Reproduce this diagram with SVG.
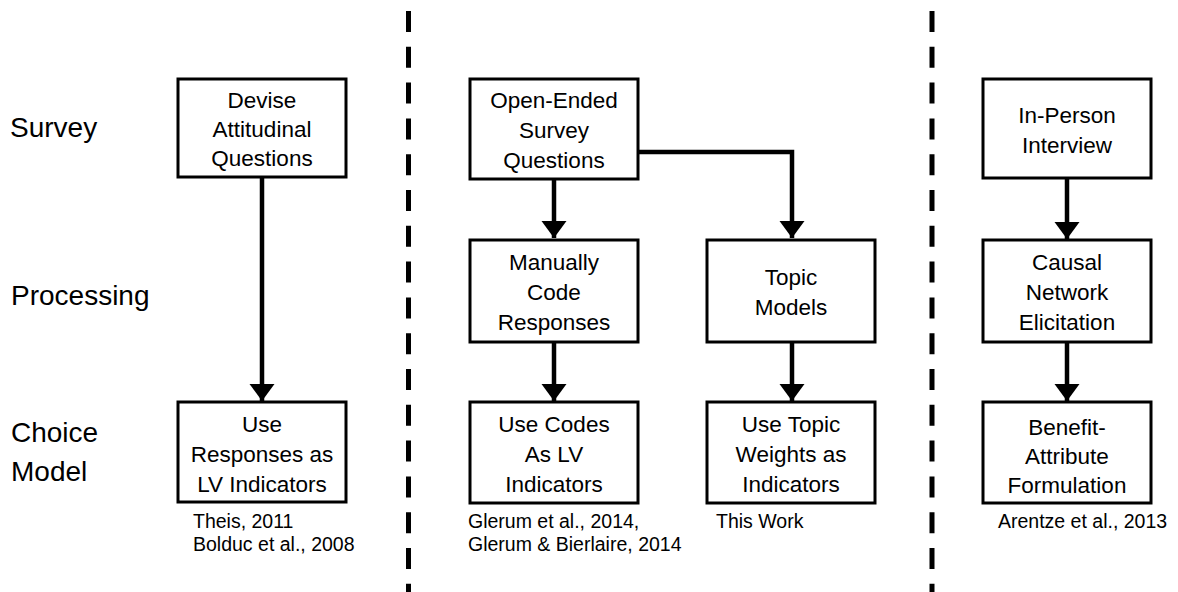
<svg xmlns="http://www.w3.org/2000/svg" width="1178" height="592" viewBox="0 0 1178 592">
<style>
.box{fill:#fff;stroke:#000;stroke-width:3}
.t{font-family:"Liberation Sans",Arial,sans-serif;font-size:22.5px;text-anchor:middle;fill:#000}
.lab{font-family:"Liberation Sans",Arial,sans-serif;font-size:28px;fill:#000}
.cit{font-family:"Liberation Sans",Arial,sans-serif;font-size:19.5px;fill:#000}
.c{fill:none;stroke:#000;stroke-width:4.5}
.dash{stroke:#000;stroke-width:5;stroke-dasharray:21 14.8}
</style>
<defs>
<marker id="ah" markerUnits="userSpaceOnUse" markerWidth="18" markerHeight="26" refX="17" refY="12.5" orient="auto">
<path d="M0,0 L17,12.5 L0,25 Z" fill="#000"/>
</marker>
</defs>
<rect width="1178" height="592" fill="#fff"/>
<g id="dividers">
<line class="dash" x1="408.5" y1="11" x2="408.5" y2="592"/>
<line class="dash" x1="932" y1="11" x2="932" y2="592"/>
</g>
<g id="row-labels">
<text class="lab" x="10" y="137">Survey</text>
<text class="lab" x="11" y="305">Processing</text>
<text class="lab" x="11" y="442">Choice</text>
<text class="lab" x="11" y="481">Model</text>
</g>
<g id="connectors">
<path class="c" d="M262,177 V401" marker-end="url(#ah)"/>
<path class="c" d="M554,179 V238" marker-end="url(#ah)"/>
<path class="c" d="M638,152 H792 V238" marker-end="url(#ah)"/>
<path class="c" d="M554,342 V401" marker-end="url(#ah)"/>
<path class="c" d="M792,342 V401" marker-end="url(#ah)"/>
<path class="c" d="M1067,178 V239" marker-end="url(#ah)"/>
<path class="c" d="M1067,342 V401" marker-end="url(#ah)"/>
</g>
<g id="n-devise">
<rect class="box" x="178" y="79" width="168" height="98"/>
<text class="t" x="262" y="108">Devise</text>
<text class="t" x="262" y="137">Attitudinal</text>
<text class="t" x="262" y="166">Questions</text>
</g>
<g id="n-useresp">
<rect class="box" x="178" y="402" width="168" height="100"/>
<text class="t" x="262" y="432">Use</text>
<text class="t" x="262" y="462">Responses as</text>
<text class="t" x="262" y="492">LV Indicators</text>
</g>
<g id="n-openended">
<rect class="box" x="470" y="79" width="168" height="100"/>
<text class="t" x="554" y="108">Open-Ended</text>
<text class="t" x="554" y="138">Survey</text>
<text class="t" x="554" y="168">Questions</text>
</g>
<g id="n-manual">
<rect class="box" x="470" y="240" width="168" height="102"/>
<text class="t" x="554" y="270">Manually</text>
<text class="t" x="554" y="300">Code</text>
<text class="t" x="554" y="330">Responses</text>
</g>
<g id="n-topic">
<rect class="box" x="707" y="240" width="168" height="102"/>
<text class="t" x="791" y="285">Topic</text>
<text class="t" x="791" y="315">Models</text>
</g>
<g id="n-usecodes">
<rect class="box" x="470" y="402" width="168" height="101"/>
<text class="t" x="554" y="432">Use Codes</text>
<text class="t" x="554" y="462">As LV</text>
<text class="t" x="554" y="492">Indicators</text>
</g>
<g id="n-usetopic">
<rect class="box" x="707" y="402" width="168" height="101"/>
<text class="t" x="791" y="432">Use Topic</text>
<text class="t" x="791" y="462">Weights as</text>
<text class="t" x="791" y="492">Indicators</text>
</g>
<g id="n-inperson">
<rect class="box" x="983" y="79" width="168" height="99"/>
<text class="t" x="1067" y="123">In-Person</text>
<text class="t" x="1067" y="153">Interview</text>
</g>
<g id="n-causal">
<rect class="box" x="983" y="240" width="168" height="102"/>
<text class="t" x="1067" y="270">Causal</text>
<text class="t" x="1067" y="300">Network</text>
<text class="t" x="1067" y="330">Elicitation</text>
</g>
<g id="n-benefit">
<rect class="box" x="983" y="402" width="168" height="101"/>
<text class="t" x="1067" y="435">Benefit-</text>
<text class="t" x="1067" y="464">Attribute</text>
<text class="t" x="1067" y="493">Formulation</text>
</g>
<g id="citations">
<text class="cit" x="193" y="528">Theis, 2011</text>
<text class="cit" x="193" y="551">Bolduc et al., 2008</text>
<text class="cit" x="468" y="528">Glerum et al., 2014,</text>
<text class="cit" x="468" y="551">Glerum &amp; Bierlaire, 2014</text>
<text class="cit" x="716" y="528">This Work</text>
<text class="cit" x="998" y="528">Arentze et al., 2013</text>
</g>
</svg>
